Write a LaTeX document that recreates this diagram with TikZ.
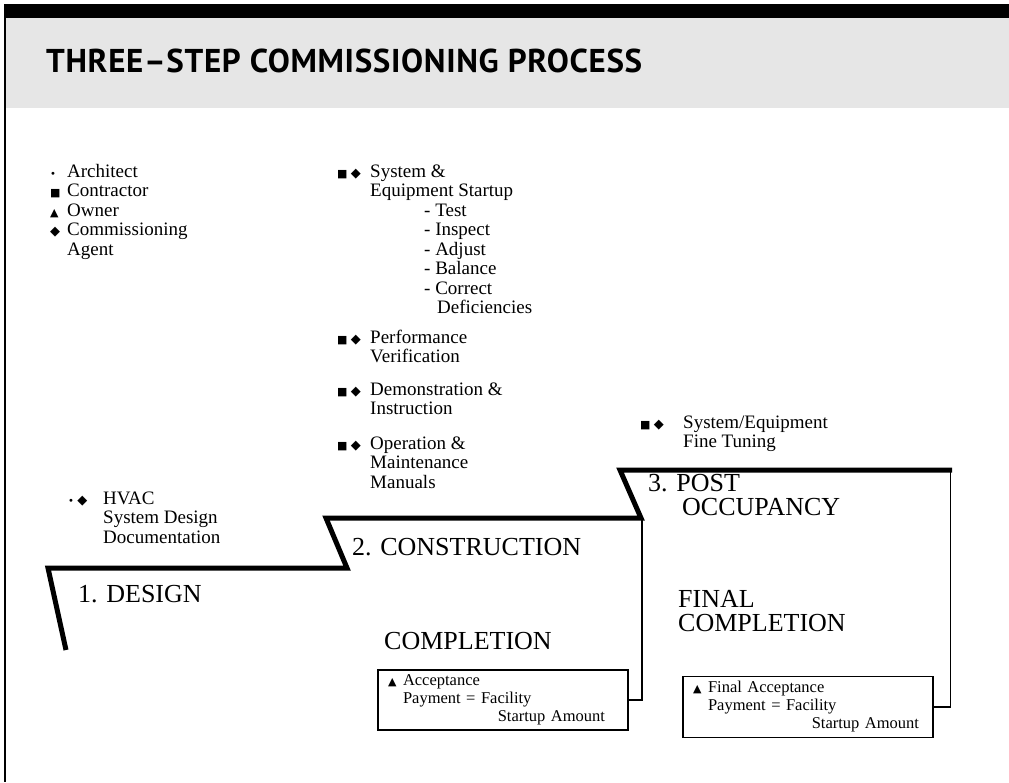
\documentclass[tikz,border=0pt]{standalone}
\usepackage{fontspec}
\setmainfont{Liberation Serif}
\newfontfamily\symfont{DejaVu Sans}
\newfontfamily\headfont{PT Sans}[LetterSpace=2]
\definecolor{bandgray}{HTML}{E6E6E6}
\newcommand{\sqmark}{{\symfont\fontsize{11}{11}\selectfont ■}}
\newcommand{\trimark}{{\symfont\fontsize{11}{11}\selectfont ▲}}
\newcommand{\diamark}{{\symfont\fontsize{13}{13}\selectfont ◆}}
\newcommand{\dotmark}{{\symfont\fontsize{10}{10}\selectfont •}}

\begin{document}
\begin{tikzpicture}[x=1pt,y=-1pt,
            body/.style={inner sep=0pt,anchor=base west,align=left,font=\fontsize{19}{19.5}\selectfont},
            stage/.style={inner sep=0pt,anchor=base west,align=left,font=\fontsize{26}{24}\selectfont},
            heading/.style={inner sep=0pt,anchor=west,font=\headfont\bfseries\fontsize{33}{33}\selectfont},
            infobox/.style={draw,line width=1.6pt,minimum width=250pt,inner sep=5pt,text width=230pt,align=left,font=\fontsize{16.5}{18}\selectfont},
            stair/.style={line width=5pt},
            link/.style={line width=1.6pt}]
            \useasboundingbox (0,0) rectangle (1009,782);
            \fill[bandgray] (6,18) rectangle (1009,108);
            \fill (5,4) rectangle (1009,18);
            \draw[line width=2pt] (5,4) -- (5,782);

            \node[heading] (ttl) at (46,61) {THREE–STEP COMMISSIONING PROCESS};

            \node[body] (lgnd) at (50,255) {\makebox[17pt][l]{\dotmark}Architect\\
                \makebox[17pt][l]{\sqmark}Contractor\\
                \makebox[17pt][l]{\trimark}Owner\\
                \makebox[17pt][l]{\diamark}Commissioning\\
                \hspace*{17pt}Agent};

            \node[body] (m1) at (337,177) {\sqmark\,\diamark};
            \node[body] (sys) at (370,313.5) {System \&\\
                Equipment Startup\\
                \hspace*{54pt}- Test\\
                \hspace*{54pt}- Inspect\\
                \hspace*{54pt}- Adjust\\
                \hspace*{54pt}- Balance\\
                \hspace*{54pt}- Correct\\
                \hspace*{67pt}Deficiencies};
            \node[body] (m2) at (337,343) {\sqmark\,\diamark};
            \node[body] (perf) at (370,362.5) {Performance\\Verification};
            \node[body] (m3) at (337,395) {\sqmark\,\diamark};
            \node[body] (demo) at (370,414.5) {Demonstration \&\\Instruction};
            \node[body] (m4) at (337,449) {\sqmark\,\diamark};
            \node[body] (oper) at (370,488) {Operation \&\\Maintenance\\Manuals};
            \node[body] (m5) at (640,428) {\sqmark\,\diamark};
            \node[body] (tune) at (683,447.5) {System/Equipment\\Fine Tuning};
            \node[body] (m6) at (68,504) {\dotmark\,\diamark};
            \node[body] (hvac) at (103,543) {HVAC\\System Design\\Documentation};

            \coordinate (d0) at (66,650);
            \coordinate (d1) at (48,568);
            \coordinate (d2) at (347,568);
            \coordinate (c1) at (326,518);
            \coordinate (c2) at (641,518);
            \coordinate (p1) at (620,470);
            \coordinate (p2) at (952,470);
            \draw[stair] (d0) -- (d1) -- (d2) -- (c1) -- (c2) -- (p1) -- (p2);

            \node[stage] (design) at (78,602) {1. DESIGN};
            \node[stage] (constr) at (352,555) {2. CONSTRUCTION};
            \node[stage] (post) at (648,515) {3. POST\\\hspace*{34pt}OCCUPANCY};
            \node[stage] (compl) at (384,649) {COMPLETION};
            \node[stage] (fcompl) at (678,631) {FINAL\\COMPLETION};

            \node[infobox] (cbox) at (503,700) {\makebox[15pt][l]{\trimark}Acceptance\\
                \hspace*{15pt}Payment = Facility\\
                \makebox[\linewidth][r]{Startup Amount\hspace*{13pt}}};
            \node[infobox] (fbox) at (808,707) {\makebox[15pt][l]{\trimark}Final Acceptance\\
                \hspace*{15pt}Payment = Facility\\
                \makebox[\linewidth][r]{Startup Amount\hspace*{4pt}}};

            \draw[link] ([xshift=1pt]c2) |- (cbox.east);
            \draw[link] ([xshift=-1.5pt]p2) |- (fbox.east);
\end{tikzpicture}
\end{document}
